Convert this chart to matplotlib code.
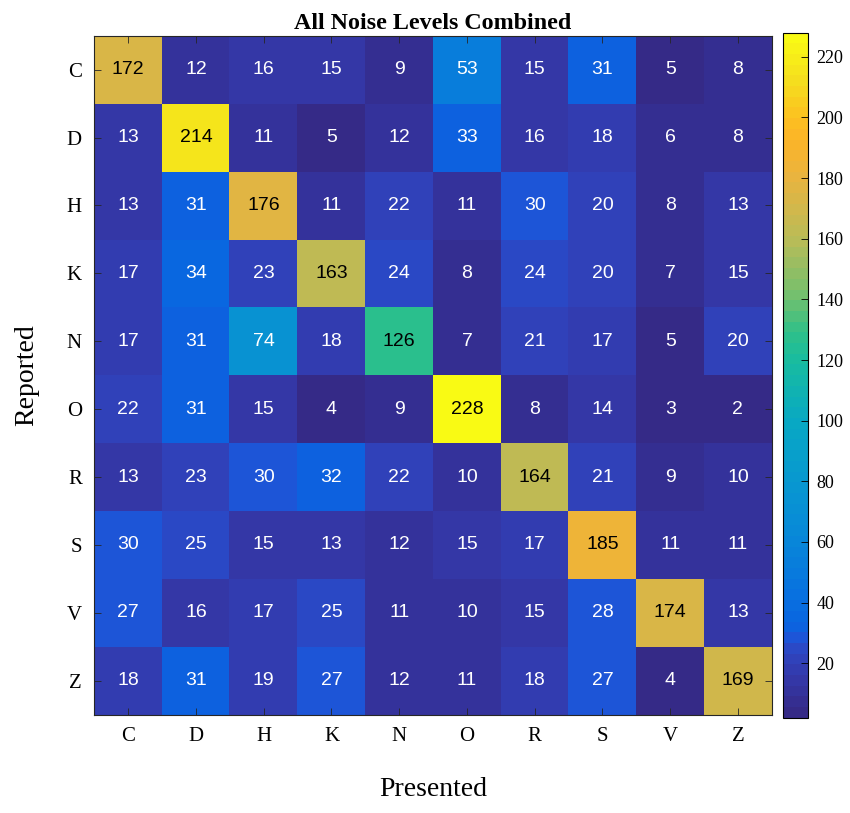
import numpy as np
import matplotlib
matplotlib.use("Agg")
import matplotlib.pyplot as plt
from matplotlib.colors import LinearSegmentedColormap

# letters (rows = reported, cols = presented)
letters = ["C", "D", "H", "K", "N", "O", "R", "S", "V", "Z"]

row_C = [172, 12, 16, 15, 9, 53, 15, 31, 5, 8]
row_D = [13, 214, 11, 5, 12, 33, 16, 18, 6, 8]
row_H = [13, 31, 176, 11, 22, 11, 30, 20, 8, 13]
row_K = [17, 34, 23, 163, 24, 8, 24, 20, 7, 15]
row_N = [17, 31, 74, 18, 126, 7, 21, 17, 5, 20]
row_O = [22, 31, 15, 4, 9, 228, 8, 14, 3, 2]
row_R = [13, 23, 30, 32, 22, 10, 164, 21, 9, 10]
row_S = [30, 25, 15, 13, 12, 15, 17, 185, 11, 11]
row_V = [27, 16, 17, 25, 11, 10, 15, 28, 174, 13]
row_Z = [18, 31, 19, 27, 12, 11, 18, 27, 4, 169]

counts = np.array([row_C, row_D, row_H, row_K, row_N,
                   row_O, row_R, row_S, row_V, row_Z])

cbar_ticks = [20, 40, 60, 80, 100, 120, 140, 160, 180, 200, 220]

# parula-like map, matched by eye to the colorbar, 64 steps
parula_anchors = [
    (0.00, "#352a87"), (0.05, "#3438a8"), (0.09, "#2f45c0"),
    (0.115, "#1a58dc"), (0.13, "#0a64e0"), (0.17, "#0870e0"),
    (0.26, "#0888d8"), (0.345, "#0898d0"), (0.43, "#08a8c4"),
    (0.52, "#18bca0"), (0.565, "#30c088"), (0.61, "#6cc070"),
    (0.70, "#b8bc58"), (0.79, "#e8b440"), (0.85, "#fcb428"),
    (0.88, "#fcc020"), (0.94, "#f5e01e"), (1.00, "#f9fa14")]
parula = LinearSegmentedColormap.from_list("parula", parula_anchors, N=64)

serif = ["Liberation Serif", "DejaVu Serif"]
sans = ["Liberation Sans", "DejaVu Sans"]

fig = plt.figure(figsize=(8.5, 8.13), dpi=100)
ax = fig.add_axes([0.111, 0.121, 0.797, 0.835])
cax = fig.add_axes([0.9215, 0.117, 0.029, 0.843])

vmin, vmax = counts.min(), counts.max()
im = ax.imshow(counts, cmap=parula, vmin=vmin, vmax=vmax, aspect="auto",
               interpolation="nearest")

for i in range(counts.shape[0]):
    for j in range(counts.shape[1]):
        v = counts[i, j]
        r, g, b, _ = parula((v - vmin) / (vmax - vmin))
        lum = 0.299 * r + 0.587 * g + 0.114 * b
        col = "black" if lum > 0.5 else "white"
        ax.text(j, i, str(v), ha="center", va="center", color=col,
                fontsize=14, family=sans)

ax.set_xticks(range(len(letters)))
ax.set_yticks(range(len(letters)))
ax.set_xticklabels(letters, family=serif, fontsize=15)
ax.set_yticklabels(letters, family=serif, fontsize=15)
ax.tick_params(direction="in", length=5, width=0.6, top=True, right=True,
               color="#262626", pad=9)
for s in ax.spines.values():
    s.set_linewidth(0.8)
    s.set_color("#262626")

ax.set_title("All Noise Levels Combined", family=serif, fontsize=17.3,
             fontweight="bold", pad=5)
ax.set_xlabel("Presented", family=serif, fontsize=20, labelpad=22)
ax.set_ylabel("Reported", family=serif, fontsize=20, labelpad=20)

cb = fig.colorbar(im, cax=cax)
cb.set_ticks(cbar_ticks)
cb.ax.tick_params(direction="in", length=5, width=0.6, labelsize=13, pad=6)
for lbl in cb.ax.get_yticklabels():
    lbl.set_family(serif)
cb.outline.set_linewidth(0.8)

fig.savefig("out.png", dpi=100)
